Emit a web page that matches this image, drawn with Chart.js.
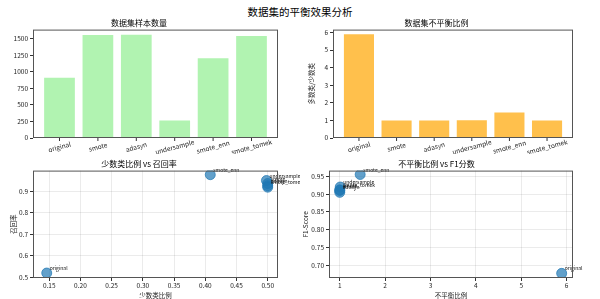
<!DOCTYPE html>
<html lang="zh">
<head>
  <meta charset="UTF-8" />
  <title>数据集的平衡效果分析</title>
  <script src="https://cdn.jsdelivr.net/npm/chart.js"></script>
  <style>
    body { margin: 0; background: #fff; font-family: "Noto Sans CJK SC", sans-serif; }
    #wrap { position: relative; width: 600px; height: 299px; overflow: hidden; }
    #wrap canvas { position: absolute; }
    #mainTitle { position: absolute; left: 0; top: 4px; width: 600px; text-align: center; font-size: 10.5px; color: #000; line-height: 16px; }
  </style>
</head>
<body>
  <div id="wrap">
    <div id="mainTitle">数据集的平衡效果分析</div>
    <canvas id="c1" width="300" height="140" style="left:0;top:14px"></canvas>
    <canvas id="c2" width="300" height="140" style="left:300px;top:14px"></canvas>
    <canvas id="c3" width="300" height="147" style="left:0;top:152px"></canvas>
    <canvas id="c4" width="300" height="147" style="left:300px;top:152px"></canvas>
  </div>
  <script>
    // data
    const methods = ['original', 'smote', 'adasyn', 'undersample', 'smote_enn', 'smote_tomek'];
    const sampleCounts = [912, 1558, 1562, 263, 1206, 1544];
    const imbalanceRatios = [5.89, 1.0, 1.0, 1.01, 1.45, 1.0];
    const minorityRatios = [0.146, 0.5, 0.5, 0.498, 0.408, 0.5];
    const recalls = [0.52, 0.935, 0.925, 0.949, 0.976, 0.918];
    const f1Scores = [0.678, 0.91, 0.905, 0.92, 0.955, 0.912];

    const FONT = '"Noto Sans CJK SC", sans-serif';
    Chart.defaults.font.family = FONT;
    Chart.defaults.color = '#222';

    // box around the plot area (matplotlib spines)
    const frame = {
      id: 'frame',
      afterDraw(chart) {
        const a = chart.chartArea, ctx = chart.ctx;
        ctx.save();
        ctx.strokeStyle = '#555';
        ctx.lineWidth = 1;
        ctx.strokeRect(a.left + 0.5, a.top + 0.5, a.right - a.left - 1, a.bottom - a.top - 1);
        ctx.restore();
      }
    };

    // rotated category labels centred under each bar
    const barLabels = {
      id: 'barLabels',
      afterDraw(chart) {
        const sx = chart.scales.x, ctx = chart.ctx, bottom = chart.chartArea.bottom;
        ctx.save();
        ctx.font = '6.5px ' + FONT;
        ctx.fillStyle = '#222';
        ctx.strokeStyle = '#333';
        methods.forEach((m, i) => {
          const x = sx.getPixelForValue(i);
          ctx.beginPath();
          ctx.moveTo(x, bottom);
          ctx.lineTo(x, bottom + 3);
          ctx.stroke();
          ctx.save();
          ctx.translate(x, bottom + 9);
          ctx.rotate(-15 * Math.PI / 180);
          ctx.textAlign = 'center';
          ctx.textBaseline = 'middle';
          ctx.fillText(m, 0, 0);
          ctx.restore();
        });
        ctx.restore();
      }
    };

    // method names next to scatter points
    const pointNames = {
      id: 'pointNames',
      afterDatasetsDraw(chart) {
        const meta = chart.getDatasetMeta(0), ctx = chart.ctx;
        ctx.save();
        ctx.font = '5px ' + FONT;
        ctx.fillStyle = '#111';
        ctx.textAlign = 'left';
        ctx.textBaseline = 'alphabetic';
        meta.data.forEach((p, i) => {
          ctx.fillText(methods[i], p.x + 3, p.y - 3);
        });
        ctx.restore();
      }
    };

    function titleOpts(text, top) {
      return { display: true, text, color: '#000', font: { size: 8, weight: 'normal' }, padding: { top, bottom: 2 } };
    }

    function barChart(id, values, color, title, yMax, yStep, yTitle, padRight) {
      return new Chart(document.getElementById(id), {
        type: 'bar',
        data: {
          datasets: [{
            data: values.map((v, i) => ({ x: i, y: v })),
            backgroundColor: color,
            barPercentage: 0.8,
            categoryPercentage: 1
          }]
        },
        options: {
          responsive: false,
          animation: false,
          layout: { padding: { left: 0, right: padRight, top: 0, bottom: 0 } },
          plugins: { legend: { display: false }, tooltip: { enabled: false }, title: titleOpts(title, 4) },
          scales: {
            x: {
              type: 'linear', min: -0.69, max: 5.69, offset: false,
              ticks: { display: false }, grid: { display: false }, border: { display: false },
              afterFit(s) { s.height = 16; }
            },
            y: {
              min: 0, max: yMax,
              ticks: { stepSize: yStep, includeBounds: false, font: { size: 6.5 }, padding: 2, callback: v => String(v) },
              grid: { drawOnChartArea: false, tickLength: 3, tickColor: '#333' },
              border: { display: false },
              title: { display: !!yTitle, text: yTitle, font: { size: 6.5 }, padding: { top: 8, bottom: 0 } },
              afterFit(s) { s.width = 33; }
            }
          }
        },
        plugins: [frame, barLabels]
      });
    }

    function scatterChart(id, xs, ys, title, xOpts, yOpts, xTitle, yTitle, yWidth, yTitlePad, padRight) {
      return new Chart(document.getElementById(id), {
        type: 'scatter',
        data: {
          datasets: [{
            data: xs.map((x, i) => ({ x, y: ys[i] })),
            backgroundColor: 'rgba(31,119,180,0.7)',
            borderColor: 'rgba(31,119,180,0.7)',
            pointRadius: 5
          }]
        },
        options: {
          responsive: false,
          animation: false,
          layout: { padding: { left: 0, right: padRight, top: 0, bottom: 0 } },
          plugins: { legend: { display: false }, tooltip: { enabled: false }, title: titleOpts(title, 7) },
          scales: {
            x: Object.assign({
              type: 'linear',
              grid: { color: 'rgba(0,0,0,0.08)', tickLength: 3, tickColor: '#333' },
              border: { display: false },
              title: { display: true, text: xTitle, font: { size: 6.5 }, padding: 0 },
              afterFit(s) { s.height = 21; }
            }, xOpts),
            y: Object.assign({
              grid: { color: 'rgba(0,0,0,0.08)', tickLength: 3, tickColor: '#333' },
              border: { display: false },
              title: { display: true, text: yTitle, font: { size: 6.5 }, padding: { top: yTitlePad, bottom: 0 } },
              afterFit(s) { s.width = yWidth; }
            }, yOpts)
          }
        },
        plugins: [frame, pointNames]
      });
    }

    barChart('c1', sampleCounts, 'rgba(144,238,144,0.7)', '数据集样本数量', 1640, 250, '', 22);
    barChart('c2', imbalanceRatios, 'rgba(255,165,0,0.7)', '数据集不平衡比例', 6.16, 1, '多数类/少数类', 27);

    scatterChart('c3', minorityRatios, recalls, '少数类比例 vs 召回率',
      { min: 0.124, max: 0.5165, ticks: { stepSize: 0.05, includeBounds: false, maxRotation: 0, font: { size: 6.5 }, padding: 1, callback: v => v.toFixed(2) } },
      { min: 0.497, max: 0.995, ticks: { stepSize: 0.1, includeBounds: false, font: { size: 6.5 }, padding: 2, callback: v => v.toFixed(1) } },
      '少数类比例', '召回率', 33, 10, 22);

    scatterChart('c4', imbalanceRatios, f1Scores, '不平衡比例 vs F1分数',
      { min: 0.763, max: 6.14, ticks: { stepSize: 1, includeBounds: false, maxRotation: 0, font: { size: 6.5 }, padding: 1, callback: v => v.toFixed(0) } },
      { min: 0.665, max: 0.966, ticks: { stepSize: 0.05, includeBounds: false, font: { size: 6.5 }, padding: 2, callback: v => v.toFixed(2) } },
      '不平衡比例', 'F1-Score', 29, 2, 27);
  </script>
</body>
</html>
